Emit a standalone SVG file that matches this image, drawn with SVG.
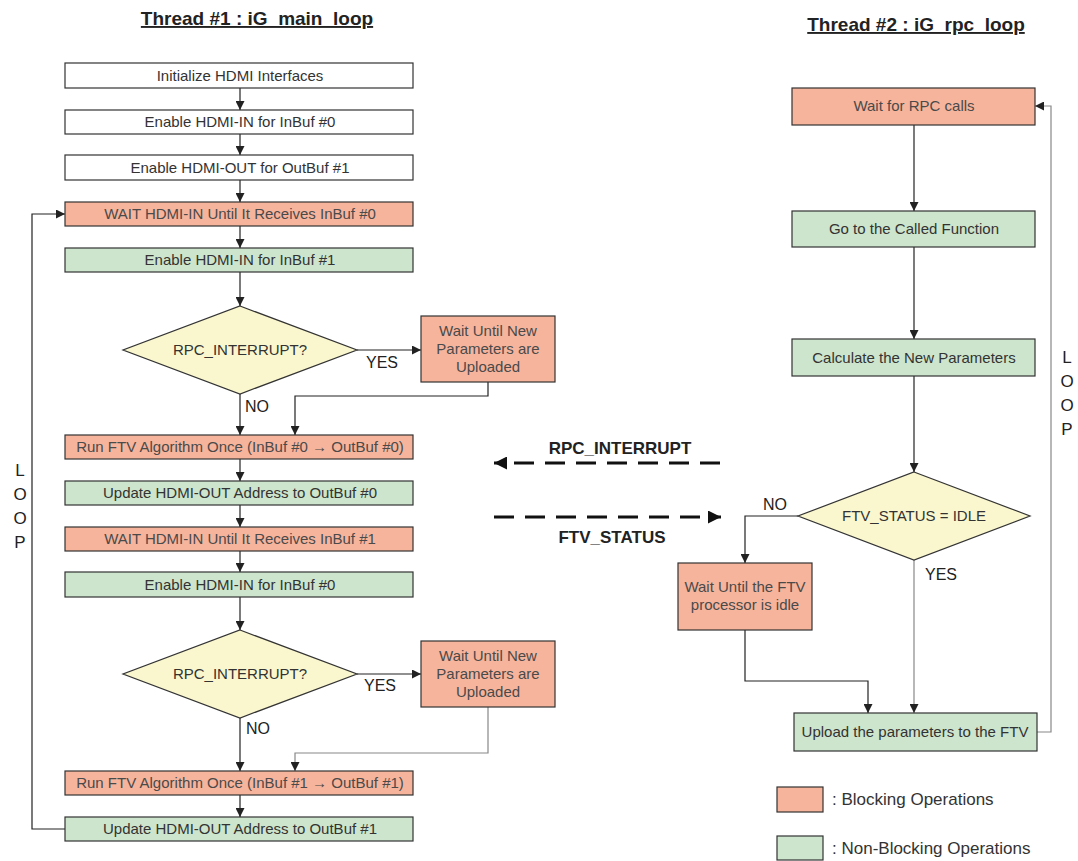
<svg xmlns="http://www.w3.org/2000/svg" width="1078" height="861" viewBox="0 0 1078 861">
  <defs>
    <marker id="arr" viewBox="0 0 10 10" refX="10" refY="5" markerWidth="9" markerHeight="9" markerUnits="userSpaceOnUse" orient="auto">
      <path d="M0,0 L10,5 L0,10 z" fill="#222"/>
    </marker>
    <marker id="arrBig" viewBox="0 0 10 10" refX="10" refY="5" markerWidth="13" markerHeight="13" markerUnits="userSpaceOnUse" orient="auto">
      <path d="M0,0 L10,5 L0,10 z" fill="#111"/>
    </marker>
    <style>
      .white { fill: #ffffff; stroke: #333; stroke-width: 1.2; }
      .block { fill: #f7b49c; stroke: #333; stroke-width: 1.2; }
      .nonblock { fill: #cde5cc; stroke: #333; stroke-width: 1.2; }
      .dec { fill: #faf7ce; stroke: #333; stroke-width: 1.2; }
      text { font-family: "Liberation Sans", Arial, sans-serif; font-size: 15px; fill: #333; }
      .lbl { text-anchor: middle; }
      .bt { fill: #4a4a4a; }
      .title { font-size: 19px; font-weight: bold; text-decoration: underline; fill: #222; text-anchor: middle; }
      .sig { font-size: 17px; font-weight: bold; fill: #222; text-anchor: middle; }
      .yn { font-size: 16px; fill: #222; }
      .loop { font-size: 17px; fill: #222; text-anchor: middle; }
      .leg { font-size: 17px; fill: #333; }
      .c { fill: none; stroke: #222; stroke-width: 1.2; }
      .cg { fill: none; stroke: #888; stroke-width: 1.2; }
      .dash { fill: none; stroke: #111; stroke-width: 3; stroke-dasharray: 20 11; }
    </style>
  </defs>

  <!-- headings -->
  <text class="title" x="257" y="25">Thread #1 : iG_main_loop</text>
  <text class="title" x="916" y="31">Thread #2 : iG_rpc_loop</text>

  <!-- connectors -->
  <g id="connectors">
    <!-- thread 1 main column -->
    <line class="c" x1="240" y1="88" x2="240" y2="110" marker-end="url(#arr)"/>
    <line class="c" x1="240" y1="134" x2="240" y2="155" marker-end="url(#arr)"/>
    <line class="c" x1="240" y1="180" x2="240" y2="202" marker-end="url(#arr)"/>
    <line class="c" x1="240" y1="226" x2="240" y2="248" marker-end="url(#arr)"/>
    <line class="c" x1="240" y1="272" x2="240" y2="306" marker-end="url(#arr)"/>
    <line class="c" x1="357" y1="350" x2="421" y2="350" marker-end="url(#arr)"/>
    <line class="c" x1="240" y1="394" x2="240" y2="435" marker-end="url(#arr)"/>
    <polyline class="c" points="488,382 488,396 295,396 295,435" marker-end="url(#arr)"/>
    <line class="c" x1="240" y1="459" x2="240" y2="481" marker-end="url(#arr)"/>
    <line class="c" x1="240" y1="505" x2="240" y2="527" marker-end="url(#arr)"/>
    <line class="c" x1="240" y1="551" x2="240" y2="572" marker-end="url(#arr)"/>
    <line class="c" x1="240" y1="597" x2="240" y2="630" marker-end="url(#arr)"/>
    <line class="c" x1="357" y1="674" x2="421" y2="674" marker-end="url(#arr)"/>
    <line class="c" x1="240" y1="718" x2="240" y2="771" marker-end="url(#arr)"/>
    <polyline class="cg" points="488,707 488,753 295,753 295,771" marker-end="url(#arr)"/>
    <line class="c" x1="240" y1="795" x2="240" y2="817" marker-end="url(#arr)"/>
    <polyline class="c" points="65,829 32,829 32,214 65,214" marker-end="url(#arr)"/>

    <!-- thread 2 column -->
    <line class="c" x1="914" y1="125" x2="914" y2="211" marker-end="url(#arr)"/>
    <line class="c" x1="914" y1="247" x2="914" y2="339" marker-end="url(#arr)"/>
    <line class="c" x1="914" y1="376" x2="914" y2="472" marker-end="url(#arr)"/>
    <polyline class="c" points="798,516 745,516 745,563" marker-end="url(#arr)"/>
    <line class="cg" x1="914" y1="560" x2="914" y2="713" marker-end="url(#arr)"/>
    <polyline class="c" points="745,630 745,681 868,681 868,713" marker-end="url(#arr)"/>
    <polyline class="cg" points="1037,732 1051,732 1051,106 1035,106" marker-end="url(#arr)"/>

    <!-- signals between threads -->
    <line class="dash" x1="720" y1="463" x2="494" y2="463" marker-end="url(#arrBig)"/>
    <line class="dash" x1="494" y1="517" x2="721" y2="517" marker-end="url(#arrBig)"/>
  </g>

  <text class="sig" x="620" y="454">RPC_INTERRUPT</text>
  <text class="sig" x="612" y="543">FTV_STATUS</text>

  <!-- thread 1 nodes -->
  <g id="t1-init"><rect class="white" x="65" y="63" width="348" height="25"/><text class="lbl" x="240" y="81">Initialize HDMI Interfaces</text></g>
  <g id="t1-en-in0"><rect class="white" x="65" y="110" width="348" height="24"/><text class="lbl" x="240" y="127">Enable HDMI-IN for InBuf #0</text></g>
  <g id="t1-en-out1"><rect class="white" x="65" y="155" width="348" height="25"/><text class="lbl" x="240" y="173">Enable HDMI-OUT for OutBuf #1</text></g>
  <g id="t1-wait0"><rect class="block" x="65" y="202" width="348" height="24"/><text class="lbl bt" x="240" y="219">WAIT HDMI-IN Until It Receives InBuf #0</text></g>
  <g id="t1-en-in1"><rect class="nonblock" x="65" y="248" width="348" height="24"/><text class="lbl" x="240" y="265">Enable HDMI-IN for InBuf #1</text></g>
  <g id="t1-dec1"><polygon class="dec" points="240,306 357,350 240,394 123,350"/><text class="lbl" x="240" y="355">RPC_INTERRUPT?</text></g>
  <g id="t1-waitp1"><rect class="block" x="421" y="316" width="134" height="66"/>
    <text class="lbl bt" x="488" y="336">Wait Until New</text>
    <text class="lbl bt" x="488" y="354">Parameters are</text>
    <text class="lbl bt" x="488" y="372">Uploaded</text></g>
  <text class="yn" x="366" y="368">YES</text>
  <text class="yn" x="245" y="412">NO</text>
  <g id="t1-run0"><rect class="block" x="65" y="435" width="348" height="24"/><text class="lbl bt" x="240" y="452">Run FTV Algorithm Once (InBuf #0 → OutBuf #0)</text></g>
  <g id="t1-upd0"><rect class="nonblock" x="65" y="481" width="348" height="24"/><text class="lbl" x="240" y="498">Update HDMI-OUT Address to OutBuf #0</text></g>
  <g id="t1-wait1"><rect class="block" x="65" y="527" width="348" height="24"/><text class="lbl bt" x="240" y="544">WAIT HDMI-IN Until It Receives InBuf #1</text></g>
  <g id="t1-en-in0b"><rect class="nonblock" x="65" y="572" width="348" height="25"/><text class="lbl" x="240" y="590">Enable HDMI-IN for InBuf #0</text></g>
  <g id="t1-dec2"><polygon class="dec" points="240,630 357,674 240,718 123,674"/><text class="lbl" x="240" y="679">RPC_INTERRUPT?</text></g>
  <g id="t1-waitp2"><rect class="block" x="421" y="641" width="134" height="66"/>
    <text class="lbl bt" x="488" y="661">Wait Until New</text>
    <text class="lbl bt" x="488" y="679">Parameters are</text>
    <text class="lbl bt" x="488" y="697">Uploaded</text></g>
  <text class="yn" x="364" y="691">YES</text>
  <text class="yn" x="246" y="734">NO</text>
  <g id="t1-run1"><rect class="block" x="65" y="771" width="348" height="24"/><text class="lbl bt" x="240" y="788">Run FTV Algorithm Once (InBuf #1 → OutBuf #1)</text></g>
  <g id="t1-upd1"><rect class="nonblock" x="65" y="817" width="348" height="24"/><text class="lbl" x="240" y="834">Update HDMI-OUT Address to OutBuf #1</text></g>

  <!-- loop marks -->
  <g id="loop-left">
    <text class="loop" x="20" y="476">L</text>
    <text class="loop" x="20" y="500">O</text>
    <text class="loop" x="20" y="524">O</text>
    <text class="loop" x="20" y="548">P</text>
  </g>
  <g id="loop-right">
    <text class="loop" x="1067" y="363">L</text>
    <text class="loop" x="1067" y="387">O</text>
    <text class="loop" x="1067" y="411">O</text>
    <text class="loop" x="1067" y="435">P</text>
  </g>

  <!-- thread 2 nodes -->
  <g id="t2-wait"><rect class="block" x="792" y="88" width="243" height="37"/><text class="lbl bt" x="914" y="111">Wait for RPC calls</text></g>
  <g id="t2-goto"><rect class="nonblock" x="792" y="211" width="243" height="36"/><text class="lbl" x="914" y="234">Go to the Called Function</text></g>
  <g id="t2-calc"><rect class="nonblock" x="792" y="339" width="243" height="37"/><text class="lbl" x="914" y="363">Calculate the New Parameters</text></g>
  <g id="t2-dec"><polygon class="dec" points="914,472 1030,516 914,560 798,516"/><text class="lbl" x="914" y="521">FTV_STATUS = IDLE</text></g>
  <text class="yn" x="763" y="510">NO</text>
  <text class="yn" x="925" y="580">YES</text>
  <g id="t2-waitidle"><rect class="block" x="678" y="563" width="134" height="67"/>
    <text class="lbl bt" x="745" y="592">Wait Until the FTV</text>
    <text class="lbl bt" x="745" y="610">processor is idle</text></g>
  <g id="t2-upload"><rect class="nonblock" x="794" y="713" width="243" height="38"/><text class="lbl" x="915" y="737">Upload the parameters to the FTV</text></g>

  <!-- legend -->
  <g id="legend">
    <rect class="block" x="777" y="787" width="46" height="25"/>
    <text class="leg" x="832" y="805">: Blocking Operations</text>
    <rect class="nonblock" x="777" y="836" width="46" height="24"/>
    <text class="leg" x="832" y="854">: Non-Blocking Operations</text>
  </g>
</svg>
